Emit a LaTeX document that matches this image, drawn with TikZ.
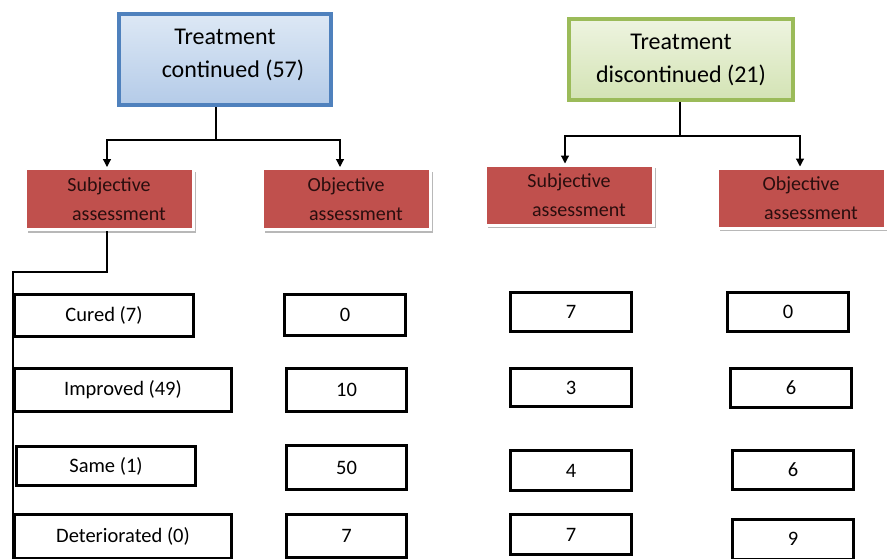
\documentclass[tikz,border=0pt]{standalone}
\usepackage{fontspec}
\setmainfont{Carlito}
\usetikzlibrary{arrows.meta,shadows}
\definecolor{bluebd}{HTML}{4F81BD}
\definecolor{bluetop}{HTML}{DDE8F5}
\definecolor{bluebot}{HTML}{B4CBE8}
\definecolor{greenbd}{HTML}{9BBB59}
\definecolor{greentop}{HTML}{EEF4E0}
\definecolor{greenbot}{HTML}{D3E3B4}
\definecolor{redfill}{HTML}{C0504D}
\definecolor{redtext}{HTML}{2A0E0E}
\begin{document}
\begin{tikzpicture}[x=1pt,y=-1pt,
  title/.style={line width=4pt, align=center, inner sep=0pt,
    font=\fontsize{24}{33}\selectfont, shading=axis},
  redbox/.style={fill=redfill, draw=white, line width=3pt, text=redtext,
    minimum width=168pt, minimum height=61pt, align=center, inner sep=0pt,
    font=\fontsize{20}{29}\selectfont,
    drop shadow={shadow xshift=3pt, shadow yshift=-3pt, fill=black!28, opacity=1}},
  valbox/.style={draw=black, line width=3pt, fill=white, inner sep=0pt,
    font=\fontsize{20.5}{24}\selectfont},
  conn/.style={line width=1.2pt},
  arr/.style={conn, -{Triangle[width=8pt,length=8pt]}}]
\clip (0,0) rectangle (887,558);
\fill[white] (0,0) rectangle (887,558);

% title boxes
\node[title, draw=bluebd, top color=bluetop, bottom color=bluebot,
  minimum width=212pt, minimum height=91pt, text depth=12pt] (tc) at (225,59.5)
  {Treatment\\\hspace*{16pt}continued (57)};
\node[title, draw=greenbd, top color=greentop, bottom color=greenbot,
  minimum width=224pt, minimum height=81pt] (td) at (681,59.5)
  {Treatment\\discontinued (21)};

% assessment boxes
\node[redbox] (sa) at (109,199) {Subjective\\\hspace*{20pt}assessment};
\node[redbox] (oa) at (346,199) {Objective\\\hspace*{20pt}assessment};
\node[redbox, minimum height=60pt] (sb) at (569,195) {Subjective\\\hspace*{20pt}assessment};
\node[redbox, minimum height=60pt] (ob) at (801,198) {Objective\\\hspace*{20pt}assessment};

% continued: subjective values
\node[valbox, minimum width=179pt, minimum height=42pt] (c1) at (104,315.5) {Cured (7)};
\node[valbox, minimum width=217pt, minimum height=43pt] (c2) at (123,390) {Improved (49)};
\node[valbox, minimum width=179pt, minimum height=39pt] (c3) at (106,466) {Same (1)};
\node[valbox, minimum width=217pt, minimum height=44pt] (c4) at (123,536) {Deteriorated (0)};

% continued: objective values
\node[valbox, minimum width=121pt, minimum height=41pt] (o1) at (345,315) {0};
\node[valbox, minimum width=120pt, minimum height=43pt] (o2) at (346.5,390) {10};
\node[valbox, minimum width=120pt, minimum height=44pt] (o3) at (346.5,467.5) {50};
\node[valbox, minimum width=120pt, minimum height=43pt] (o4) at (346.5,536) {7};

% discontinued: subjective values
\node[valbox, minimum width=121pt, minimum height=39pt] (d1) at (571,312) {7};
\node[valbox, minimum width=121pt, minimum height=38pt] (d2) at (571,387.5) {3};
\node[valbox, minimum width=121pt, minimum height=40pt] (d3) at (571,470.5) {4};
\node[valbox, minimum width=121pt, minimum height=40pt] (d4) at (571,534.5) {7};

% discontinued: objective values
\node[valbox, minimum width=121pt, minimum height=39pt] (e1) at (788,312) {0};
\node[valbox, minimum width=121pt, minimum height=39pt] (e2) at (791,388) {6};
\node[valbox, minimum width=121pt, minimum height=39pt] (e3) at (793,470) {6};
\node[valbox, minimum width=121pt, minimum height=40pt] (e4) at (793,539) {9};

% connectors, left tree
\coordinate (j1) at (216,140);
\draw[conn] (tc.south -| j1) -- (j1);
\draw[arr] (j1) -| ([xshift=-2pt]sa.north);
\draw[arr] (j1) -| ([xshift=-6pt]oa.north);
\coordinate (k1) at (13,272);
\coordinate (kend) at (13,575);
\draw[conn] ([xshift=-2pt]sa.south) |- (k1) -- (kend);

% connectors, right tree
\coordinate (j2) at (680,136);
\draw[conn] (td.south -| j2) -- (j2);
\draw[arr] (j2) -| ([xshift=-4pt]sb.north);
\draw[arr] (j2) -| ([xshift=-1pt]ob.north);
\end{tikzpicture}
\end{document}
